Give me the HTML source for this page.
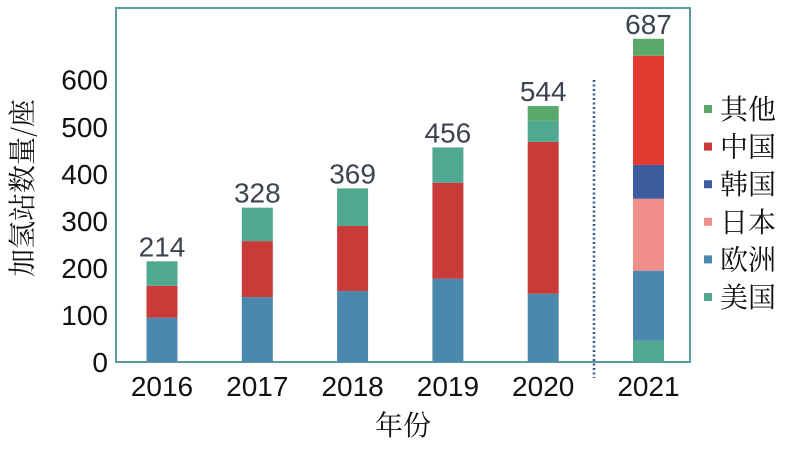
<!DOCTYPE html>
<html><head><meta charset="utf-8"><style>
body{margin:0;background:#fff}
svg text{font-family:"Liberation Sans","Noto Sans CJK SC",sans-serif}
</style></head><body>
<svg id="chart" width="788" height="444"></svg>
<script>
const years=['2016','2017','2018','2019','2020','2021'];
const seriesNames=['美国','欧洲','日本','韩国','中国','其他'];
const us=[52,71,80,75,45,45];
const europe=[94,138,151,177,145,149];
const japan=[0,0,0,0,0,153];
const korea=[0,0,0,0,0,72];
const china=[68,119,138,204,323,232];
const other=[0,0,0,0,31,36];
const totals=[214,328,369,456,544,687];
const yTicks=[0,100,200,300,400,500,600];
const colors=['#4fa88f','#4a88ad','#f08e8b','#3d5c9e','#c93a39','#5aa96a'];
const red2021='#e33a30';
const series=[us,europe,japan,korea,china,other];
const NS='http://www.w3.org/2000/svg';
const svg=document.getElementById('chart');
function mk(t,a,p){const e=document.createElementNS(NS,t);for(const k in a)e.setAttribute(k,a[k]);(p||svg).appendChild(e);return e;}
const y=v=>362-v*0.4705;
const xc=i=>i<5?162+i*95.3:648.5;
const bw=31;
const frame=mk('rect',{x:116,y:8,width:574,height:354,fill:'none',stroke:'#5a9aa0','stroke-width':2});

yTicks.forEach(v=>{const t=mk('text',{x:108,y:y(v)+10,'text-anchor':'end','font-size':28,fill:'#111'});t.textContent=v;
});
years.forEach((yr,i)=>{let acc=0;
 const order=i<5?[1,4,0,5]:[0,1,2,3,4,5];
 order.forEach(k=>{const v=series[k][i];if(!v)return;const r=mk('rect',{x:xc(i)-bw/2,y:y(acc+v),width:bw,height:y(acc)-y(acc+v),fill:(k==4&&i==5)?red2021:colors[k]});
 acc+=v;});
 const t=mk('text',{x:xc(i),y:y(totals[i])-5,'text-anchor':'middle','font-size':28,fill:'#3d4350'});t.textContent=totals[i];
 
 const xl=mk('text',{x:xc(i),y:396,'text-anchor':'middle','font-size':28,fill:'#111'});xl.textContent=yr;
 
});
const dl=mk('line',{x1:594,y1:80,x2:594,y2:378,stroke:'#2d5a8a','stroke-width':2.5,'stroke-dasharray':'2 2.5'});

const xt=mk('text',{x:403,y:435,'text-anchor':'middle','font-size':28,fill:'#111','style':'font-family:"Noto Serif CJK SC",serif'});xt.textContent='年份';

const yt=mk('text',{x:0,y:0,'text-anchor':'middle','font-size':28,fill:'#111',transform:'translate(32,188) rotate(-90)','style':'font-family:"Noto Serif CJK SC",serif'});yt.textContent='加氢站数量/座';

const lorder=[5,4,3,2,1,0];
lorder.forEach((k,j)=>{const cy=109+j*37.6;
 const r=mk('rect',{x:704,y:cy-4,width:8,height:8,fill:colors[k]});
 
 const t=mk('text',{x:720,y:cy+10,'font-size':28,fill:'#111','style':'font-family:"Noto Serif CJK SC",serif'});t.textContent=seriesNames[k];
 });
</script>
</body></html>
